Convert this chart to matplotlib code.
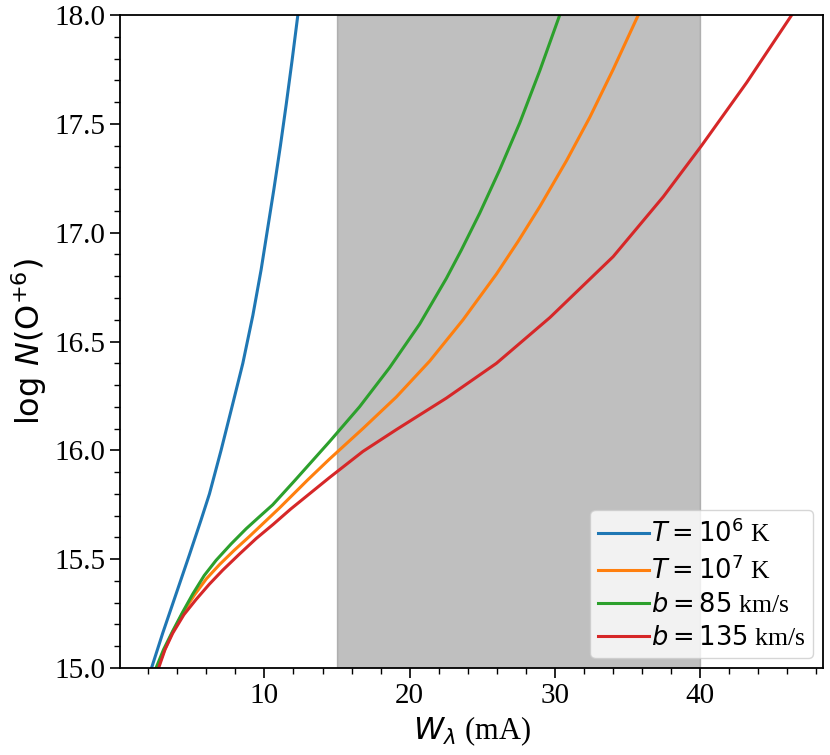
import matplotlib
matplotlib.use("Agg")
from matplotlib import pyplot as plt
from matplotlib.ticker import AutoMinorLocator

# -- Data (W in mA, log N) --
W_T6 = [2.22, 2.99, 3.91, 4.83, 5.63, 6.21, 7.01, 7.82, 8.51, 9.20, 9.77, 10.15, 10.65, 11.10, 11.50, 11.90, 12.30]
N_T6 = [15.00, 15.16, 15.34, 15.52, 15.68, 15.80, 16.00, 16.215, 16.40, 16.62, 16.83, 16.99, 17.20, 17.40, 17.59, 17.79, 18.00]

W_T7 = [2.64, 3.10, 3.60, 4.35, 5.17, 6.00, 6.90, 7.90, 8.97, 10.00, 11.03, 12.99, 14.48, 16.78, 19.08,
        21.38, 23.68, 25.98, 27.47, 28.97, 30.80, 32.41, 34.02, 35.75]
N_T7 = [15.00, 15.08, 15.155, 15.25, 15.335, 15.41, 15.475, 15.54, 15.605, 15.67, 15.735, 15.865, 15.96, 16.10, 16.245,
        16.41, 16.60, 16.81, 16.96, 17.12, 17.33, 17.53, 17.75, 18.00]

W_B85 = [2.53, 3.05, 3.68, 4.35, 5.06, 5.85, 6.67, 7.70, 8.74, 9.65, 10.57, 12.07, 14.48, 16.55, 18.62,
         20.69, 22.53, 23.56, 24.83, 26.21, 27.59, 28.97, 30.34]
N_B85 = [15.00, 15.085, 15.17, 15.255, 15.34, 15.425, 15.495, 15.57, 15.64, 15.695, 15.75, 15.86, 16.04, 16.20, 16.38,
         16.58, 16.79, 16.92, 17.09, 17.29, 17.505, 17.745, 18.00]

W_B135 = [2.71, 3.15, 3.68, 4.45, 5.29, 6.20, 7.13, 8.30, 9.43, 10.60, 11.80, 14.48, 16.78, 19.08, 22.53,
          25.98, 29.66, 34.02, 37.47, 40.11, 43.22, 46.32]
N_B135 = [15.00, 15.085, 15.16, 15.245, 15.315, 15.385, 15.45, 15.525, 15.595, 15.66, 15.73, 15.875, 15.995, 16.095, 16.24,
          16.40, 16.61, 16.89, 17.165, 17.40, 17.69, 18.00]

SPAN = (15, 40)  # observed W range (mA)

# -- Plotting --
plt.rcParams['font.family'] = 'serif'
plt.rcParams['font.serif'] = ['Liberation Serif', 'DejaVu Serif']
plt.rcParams['mathtext.fontset'] = 'dejavusans'

fig = plt.figure(figsize=(8.3, 7.55), dpi=100)
ax = fig.add_axes([0.1446, 0.1152, 0.8474, 0.8649])

ax.axvspan(*SPAN, color='grey', alpha=0.5)
ax.plot(W_T6, N_T6, lw=2.2, label=r'$T = 10^6$ K')
ax.plot(W_T7, N_T7, lw=2.2, label=r'$T = 10^7$ K')
ax.plot(W_B85, N_B85, lw=2.2, label=r'$b = 85$ km/s')
ax.plot(W_B135, N_B135, lw=2.2, label=r'$b = 135$ km/s')

ax.set_xlim(0.05, 48.5)
ax.set_ylim(15, 18)
ax.xaxis.set_minor_locator(AutoMinorLocator())
ax.yaxis.set_minor_locator(AutoMinorLocator())
ax.tick_params(which='major', length=7, width=1.2, labelsize=21)
ax.tick_params(which='minor', length=4, width=1.0)
for s in ax.spines.values():
    s.set_linewidth(1.3)

ax.set_xlabel(r'$W_\lambda$ (mA)', fontsize=22)
ax.set_ylabel(r'$\log\,N({\rm O}^{+6})$', fontsize=23)
ax.legend(loc='lower right', fontsize=18.5, handlelength=2.0, handletextpad=0.05,
          borderpad=0.3, labelspacing=0.35, borderaxespad=0.4)

plt.savefig('out.png', dpi=100)
